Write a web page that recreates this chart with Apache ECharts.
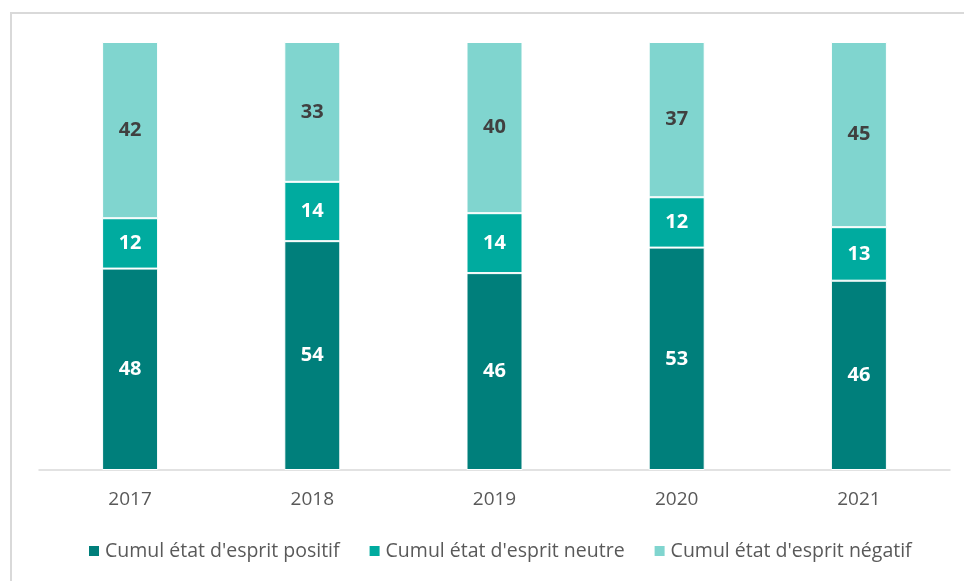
<!DOCTYPE html>
<html>
<head>
<meta charset="utf-8">
<script src="https://cdn.jsdelivr.net/npm/echarts@6/dist/echarts.min.js"></script>
<style>
  html, body { margin: 0; padding: 0; background: #fff; }
  #chart { width: 964px; height: 581px; }
</style>
</head>
<body>
<div id="chart"></div>
<script>
// données
const years = ['2017', '2018', '2019', '2020', '2021'];
const positif = [48, 54, 46, 53, 46];
const neutre = [12, 14, 14, 12, 13];
const negatif = [42, 33, 40, 37, 45];

const names = ["Cumul état d'esprit positif", "Cumul état d'esprit neutre", "Cumul état d'esprit négatif"];
const colors = ['#007F7B', '#00AB9F', '#80D5CF'];

// graphique en 100 % empilé
const totals = years.map((y, i) => positif[i] + neutre[i] + negatif[i]);
const pct = arr => arr.map((v, i) => v / totals[i] * 100);

function makeSeries(name, arr, color, labelColor) {
  return {
    name: name,
    type: 'bar',
    stack: 'total',
    barWidth: 56,
    data: pct(arr),
    itemStyle: { color: color, borderColor: '#fff', borderWidth: 1 },
    label: {
      show: true,
      position: 'inside',
      color: labelColor,
      fontFamily: 'Open Sans',
      fontWeight: 'bold',
      fontSize: 20,
      formatter: p => arr[p.dataIndex]
    }
  };
}

const chart = echarts.init(document.getElementById('chart'));
chart.setOption({
  animation: false,
  color: colors,
  graphic: [{
    type: 'rect',
    shape: { x: 11, y: 13, width: 1000, height: 1000 },
    style: { fill: 'none', stroke: '#d9d9d9', lineWidth: 2 }
  }],
  grid: { left: 39, right: 14, top: 42, bottom: 111 },
  legend: {
    top: 536,
    left: 82,
    itemWidth: 12,
    itemHeight: 12,
    itemGap: 28,
    icon: 'rect',
    textStyle: { color: '#595959', fontSize: 19.5, fontFamily: 'Open Sans' },
    data: names
  },
  xAxis: {
    type: 'category',
    data: years,
    axisTick: { show: false },
    axisLine: { lineStyle: { color: '#d9d9d9', width: 1.5 } },
    axisLabel: { color: '#595959', fontSize: 19, fontFamily: 'Open Sans', margin: 20 }
  },
  yAxis: {
    type: 'value',
    min: 0,
    max: 100,
    show: false
  },
  series: [
    makeSeries(names[0], positif, colors[0], '#fff'),
    makeSeries(names[1], neutre, colors[1], '#fff'),
    makeSeries(names[2], negatif, colors[2], '#404040')
  ]
});
window.addEventListener('resize', () => chart.resize());
</script>
</body>
</html>
